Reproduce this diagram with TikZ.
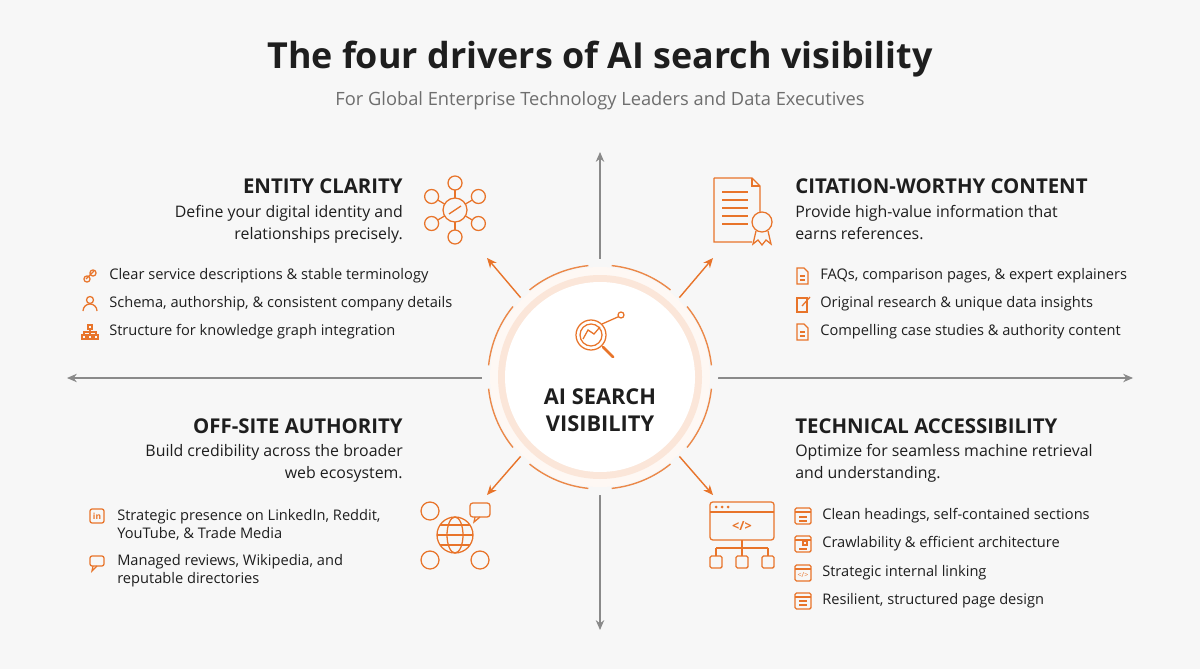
\documentclass[tikz,border=0pt]{standalone}
\usepackage{fontspec}
\setmainfont{Open Sans}
\usetikzlibrary{arrows.meta}
\definecolor{org}{HTML}{E8742A}
\definecolor{bg}{HTML}{F7F7F7}
\definecolor{axis}{HTML}{8A8A8A}
\definecolor{txt}{HTML}{1E1E1E}
\begin{document}
\begin{tikzpicture}[x=0.025cm,y=0.025cm,
 head/.style={font=\fontsize{14.5}{16}\selectfont\bfseries,text=txt,inner sep=0},
 desc/.style={font=\fontsize{11.3}{15.6}\selectfont,text=txt,inner sep=0,align=left},
 bul/.style={font=\fontsize{10.4}{13}\selectfont,text=txt,inner sep=0,anchor=west,align=left},
 ic/.style={draw=org,line width=0.9pt},
 axarr/.style={draw=axis,line width=0.8pt,{Stealth[length=7pt,width=6pt]}-{Stealth[length=7pt,width=6pt]}},
 dg/.style={draw=org,line width=1pt,-{Stealth[length=7pt,width=6pt]}}]
% y axis: use negative numbers via yscale
\begin{scope}[yscale=-1]
\fill[bg] (0,0) rectangle (1200,669);
\useasboundingbox (0,0) rectangle (1200,669);
\node[font=\fontsize{25.5}{28}\selectfont\bfseries,text=txt] (title) at (600,59) {The four drivers of AI search visibility};
\node[font=\fontsize{13}{15}\selectfont,text=axis!80!black] (sub) at (600,101) {For Global Enterprise Technology Leaders and Data Executives};
% axes
\coordinate (c) at (600,377);
\coordinate (tN) at (600,152); \coordinate (tS) at (600,630);
\coordinate (tW) at (67,378); \coordinate (tE) at (1133,378);
\draw[axarr] (tN) -- (tS);
\draw[axarr] (tW) -- (tE);
% center
\fill[bg] (c) circle (118);
\fill[org!5] (c) circle (110);
\fill[org!18] (c) circle (102);
\fill[white] (c) circle (95);
\foreach \a in {0,45,...,315}{\draw[org!85,line width=1pt] (c) ++(\a+6:112) arc[start angle=\a+6,end angle=\a+39,radius=112];}
\node[circle,minimum size=224*0.025cm,inner sep=0] (hub) at (c) {};
\node[font=\fontsize{15.5}{19.5}\selectfont\bfseries,text=txt,align=center] (hubt) at (600,410) {AI SEARCH\\VISIBILITY};
\draw[ic] (591,335) circle (15); \draw[ic] (591,335) circle (11);
\draw[ic,line width=2pt,line cap=round] (603,347) -- (613,357);
\draw[ic] (583,339)--(588,330)--(594,334)--(600,327);
\draw[ic] (602,324)--(620,316); \draw[ic,fill=white] (621,315) circle (3);
% diagonal arrows
\coordinate (dNW) at (487,258);\coordinate (dNE) at (713,258);
\coordinate (dSW) at (487,495);\coordinate (dSE) at (713,495);
\draw[dg] (hub.135) -- (dNW);
\draw[dg] (hub.45) -- (dNE);
\draw[dg] (hub.-135) -- (dSW);
\draw[dg] (hub.-45) -- (dSE);
% ENTITY CLARITY
\node[head,anchor=east] (h1) at (403,186) {ENTITY CLARITY};
\node[desc,anchor=north east,align=right] (d1) at (403,205) {Define your digital identity and\\relationships precisely.};
\draw[ic] (455,210) circle (12); \draw[ic] (449,214)--(461,206);
\foreach \a in {30,90,150,210,270,330}{\draw[ic] (455,210)++(\a:12) -- ++(\a:8); \draw[ic,fill=bg] (455,210)++(\a:27) circle (7);}
\node[bul] (b11) at (109,276) {Clear service descriptions \& stable terminology};
\node[bul] (b12) at (109,304) {Schema, authorship, \& consistent company details};
\node[bul] (b13) at (109,332) {Structure for knowledge graph integration};
\draw[ic] (86,279)--(94,271); \draw[ic,rounded corners=2pt] (84,276) rectangle (90,282); \draw[ic,rounded corners=2pt] (90,270) rectangle (96,276);
\draw[ic] (90,300) circle (3.5); \draw[ic] (83,311) arc (180:360:7);
\draw[ic] (88,325) rectangle (92,329); \draw[ic] (90,329)--(90,332) (84,335)--(84,332)--(96,332)--(96,335) (90,332)--(90,335);
\foreach \x in {84,90,96} \draw[ic] (\x-2,335) rectangle (\x+2,339);
% CITATION
\node[head,anchor=west] (h2) at (795,186) {CITATION-WORTHY CONTENT};
\node[desc,anchor=north west] (d2) at (795,205) {Provide high-value information that\\earns references.};
\draw[ic] (714,178)--(752,178)--(760,186)--(760,212) (752,242)--(714,242)--(714,178);
\draw[ic] (752,178)--(752,186)--(760,186);
\foreach \y in {192,200,208,216,224} \draw[ic] (722,\y)--(748,\y);
\draw[ic] (762,222) circle (10); \draw[ic] (756,231)--(753,244)--(758,240)--(762,245)--(766,240)--(771,244)--(768,231);
\node[bul] (b21) at (820,276) {FAQs, comparison pages, \& expert explainers};
\node[bul] (b22) at (820,304) {Original research \& unique data insights};
\node[bul] (b23) at (820,332) {Compelling case studies \& authority content};
\foreach \y in {276,332}{\draw[ic] (797,\y-8)--(804,\y-8)--(808,\y-4)--(808,\y+8)--(797,\y+8)--cycle; \draw[ic] (800,\y)--(805,\y) (800,\y+4)--(805,\y+4);}
\draw[ic] (797,298) rectangle (807,312); \draw[ic] (802,306)--(810,297);
% OFF-SITE
\node[head,anchor=east] (h3) at (403,426) {OFF-SITE AUTHORITY};
\node[desc,anchor=north east,align=right] (d3) at (403,444) {Build credibility across the broader\\web ecosystem.};
\draw[ic] (455,535) circle (18); \draw[ic] (455,535) ellipse (8 and 18); \draw[ic] (437,535)--(473,535) (440,525)--(470,525) (440,545)--(470,545);
\draw[ic] (430,511) circle (9); \draw[ic,rounded corners=2pt] (470,503) rectangle (490,517); \draw[ic] (475,517)--(474,522)--(480,517);
\draw[ic] (430,560) circle (9); \draw[ic] (480,560) circle (9);
\node[bul] (b31) at (117,525) {Strategic presence on LinkedIn, Reddit,\\YouTube, \& Trade Media};
\node[bul] (b32) at (117,571) {Managed reviews, Wikipedia, and\\reputable directories};
\draw[ic,rounded corners=1.5pt] (90,509) rectangle (104,523); \node[font=\fontsize{6}{6}\selectfont\bfseries,text=org] (li) at (97,516) {in};
\draw[ic,rounded corners=1.5pt] (90,556) rectangle (104,566); \draw[ic] (93,566)--(92,571)--(97,566);
% TECHNICAL
\node[head,anchor=west] (h4) at (795,426) {TECHNICAL ACCESSIBILITY};
\node[desc,anchor=north west] (d4) at (795,444) {Optimize for seamless machine retrieval\\and understanding.};
\draw[ic,rounded corners=2pt] (710,502) rectangle (774,540); \draw[ic] (710,512)--(774,512);
\foreach \x in {716,722,728} \fill[org] (\x,507) circle (1.5);
\node[font=\fontsize{9}{9}\selectfont\bfseries,text=org] (cd) at (742,526) {</>};
\draw[ic] (742,540)--(742,556) (716,548)--(768,548) (716,548)--(716,556) (768,548)--(768,556);
\foreach \x in {716,742,768} \draw[ic,rounded corners=1pt] (\x-6,556) rectangle (\x+6,568);
\node[bul] (b41) at (822,516) {Clean headings, self-contained sections};
\node[bul] (b42) at (822,544) {Crawlability \& efficient architecture};
\node[bul] (b43) at (822,573) {Strategic internal linking};
\node[bul] (b44) at (822,601) {Resilient, structured page design};
\foreach \y in {516,544,573,601}{\draw[ic,rounded corners=1pt] (795,\y-8) rectangle (811,\y+8); \draw[ic] (795,\y-4)--(811,\y-4);}
\draw[ic] (799,517)--(807,517) (799,521)--(807,521);
\draw[ic] (803,541) rectangle (807,545) (799,549)--(807,549);
\node[font=\fontsize{5}{5}\selectfont,text=org] (cd2) at (803,575) {</>};
\draw[ic] (799,605)--(807,605) (799,601)--(807,601);
\end{scope}
\end{tikzpicture}
\end{document}
